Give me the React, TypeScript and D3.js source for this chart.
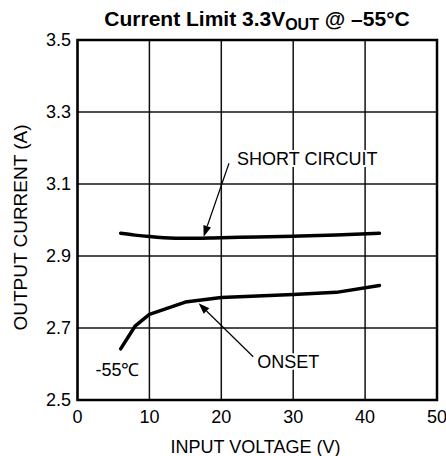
import React from "react";
import * as d3 from "d3";

const xTicks = [0, 10, 20, 30, 40, 50];
const yTicks = [2.5, 2.7, 2.9, 3.1, 3.3, 3.5];
const yTickLabels = ["2.5", "2.7", "2.9", "3.1", "3.3", "3.5"];

const shortV = [6, 8, 10, 12, 15, 20, 25, 30, 36, 42];
const shortA = [2.963, 2.958, 2.954, 2.951, 2.949, 2.951, 2.953, 2.955, 2.958, 2.963];

const onsetV = [6, 8, 10, 15, 20, 25, 30, 36, 42];
const onsetA = [2.642, 2.705, 2.738, 2.772, 2.785, 2.789, 2.793, 2.799, 2.818];

const W = 446, H = 456;
const left = 77.5, right = 437, top = 40, bottom = 400;

export default function App() {
  const x = d3.scaleLinear().domain([0, 50]).range([left, right]);
  const y = d3.scaleLinear().domain([2.5, 3.5]).range([bottom, top]);
  const smooth = d3.line<[number, number]>()
    .x(d => x(d[0])).y(d => y(d[1])).curve(d3.curveMonotoneX);
  const straight = d3.line<[number, number]>()
    .x(d => x(d[0])).y(d => y(d[1]));
  const shortPts = shortV.map((v, i) => [v, shortA[i]] as [number, number]);
  const onsetPts = onsetV.map((v, i) => [v, onsetA[i]] as [number, number]);
  const font = "'Liberation Sans', Arial, sans-serif";

  const arrow = (x1: number, y1: number, x2: number, y2: number) => {
    const ax1 = x(x1), ay1 = y(y1), ax2 = x(x2), ay2 = y(y2);
    const ang = Math.atan2(ay2 - ay1, ax2 - ax1);
    const L = 11, Wd = 4;
    const bx = ax2 - L * Math.cos(ang), by = ay2 - L * Math.sin(ang);
    const px = -Math.sin(ang) * Wd, py = Math.cos(ang) * Wd;
    return (
      <g>
        <line x1={ax1} y1={ay1} x2={bx} y2={by} stroke="#000" strokeWidth={1.2} />
        <path d={`M${ax2},${ay2}L${bx + px},${by + py}L${bx - px},${by - py}Z`} fill="#000" />
      </g>
    );
  };

  return (
    <svg width={W} height={H} style={{ position: "absolute", left: 0, top: 0, background: "#fff" }} fontFamily={font}>
      <rect x={0} y={0} width={W} height={H} fill="#fff" />
      <text x={257} y={26} textAnchor="middle" fontSize={21} fontWeight="bold">
        Current Limit 3.3V<tspan fontSize={16} dy={4}>OUT</tspan><tspan dy={-4}> @ –55°C</tspan>
      </text>
      {xTicks.map(t => (
        <line key={"gx" + t} x1={x(t)} x2={x(t)} y1={top} y2={bottom} stroke="#111" strokeWidth={1.5} />
      ))}
      {yTicks.map(t => (
        <line key={"gy" + t} x1={left} x2={right} y1={y(t)} y2={y(t)} stroke="#111" strokeWidth={1.5} />
      ))}
      <rect x={left} y={top} width={right - left} height={bottom - top} fill="none" stroke="#000" strokeWidth={2.5} />
      {xTicks.map(t => (
        <text key={"tx" + t} x={x(t)} y={423} textAnchor="middle" fontSize={18}>{t}</text>
      ))}
      {yTicks.map((t, i) => (
        <text key={"ty" + t} x={71} y={y(t) + 1} textAnchor="end" fontSize={18} dominantBaseline="middle">{yTickLabels[i]}</text>
      ))}
      <text x={255.5} y={453} textAnchor="middle" fontSize={18}>INPUT VOLTAGE (V)</text>
      <text transform={`translate(27,${227.5}) rotate(-90)`} textAnchor="middle" fontSize={19}>OUTPUT CURRENT (A)</text>
      <path d={smooth(shortPts) || ""} fill="none" stroke="#000" strokeWidth={3.5} strokeLinecap="round" />
      <path d={straight(onsetPts) || ""} fill="none" stroke="#000" strokeWidth={3.5} strokeLinecap="round" strokeLinejoin="round" />
      {arrow(21.07, 3.1575, 17.54, 2.9536)}
      {arrow(24.44, 2.62, 16.85, 2.7686)}
      <text x={x(22.2)} y={y(3.167)} fontSize={18} dominantBaseline="middle" stroke="#fff" strokeWidth={4} paintOrder="stroke">SHORT CIRCUIT</text>
      <text x={x(25)} y={y(2.602)} fontSize={18} dominantBaseline="middle" stroke="#fff" strokeWidth={4} paintOrder="stroke">ONSET</text>
      <text x={x(2.5)} y={y(2.579)} fontSize={18} dominantBaseline="middle">-55℃</text>
    </svg>
  );
}
